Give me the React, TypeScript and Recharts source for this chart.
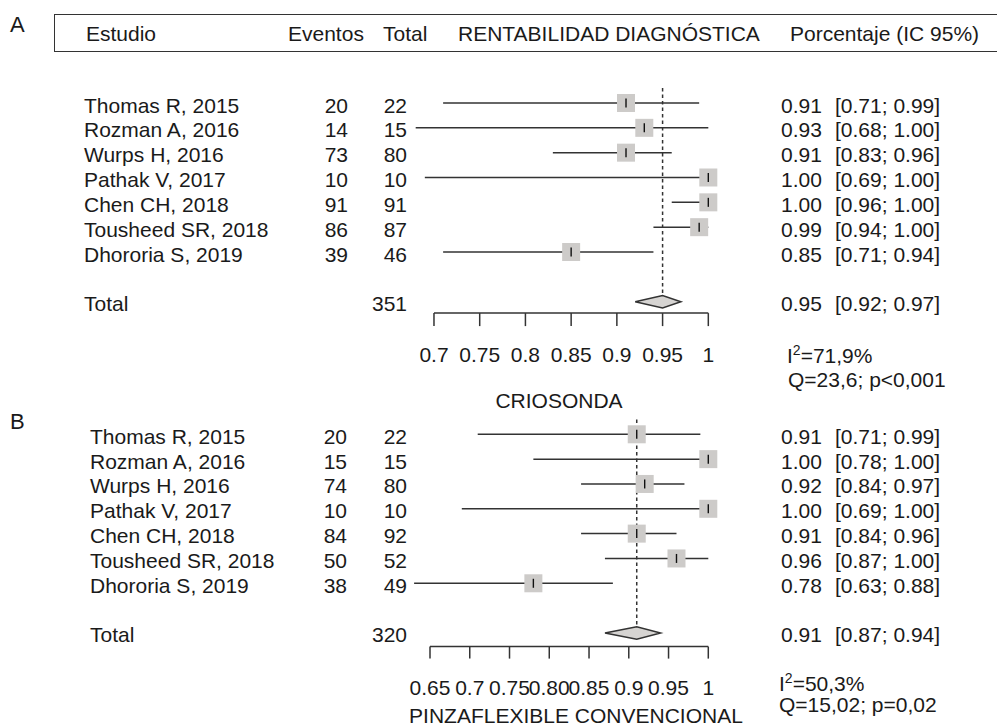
import React from 'react';
import { ScatterChart, Scatter, XAxis, YAxis, ErrorBar, ReferenceLine } from 'recharts';

const FONT = '"Liberation Sans", Arial, Helvetica, sans-serif';
const FS = 21;
const INK = '#1a1a1a';
const LINE = '#333333';

const studies = [
  'Thomas R, 2015',
  'Rozman A, 2016',
  'Wurps H, 2016',
  'Pathak V, 2017',
  'Chen CH, 2018',
  'Tousheed SR, 2018',
  'Dhororia S, 2019',
];

// panel A - criosonda
const eventsA = [20, 14, 73, 10, 91, 86, 39];
const totalsA = [22, 15, 80, 10, 91, 87, 46];
const estA = [0.91, 0.93, 0.91, 1.0, 1.0, 0.99, 0.85];
const loA = [0.71, 0.68, 0.83, 0.69, 0.96, 0.94, 0.71];
const hiA = [0.99, 1.0, 0.96, 1.0, 1.0, 1.0, 0.94];
const summaryA = { n: 351, est: 0.95, lo: 0.92, hi: 0.97 };
const ticksA = [0.7, 0.75, 0.8, 0.85, 0.9, 0.95, 1];
const tickLabelsA = ['0.7', '0.75', '0.8', '0.85', '0.9', '0.95', '1'];

// panel B - pinza flexible convencional
const eventsB = [20, 15, 74, 10, 84, 50, 38];
const totalsB = [22, 15, 80, 10, 92, 52, 49];
const estB = [0.91, 1.0, 0.92, 1.0, 0.91, 0.96, 0.78];
const loB = [0.71, 0.78, 0.84, 0.69, 0.84, 0.87, 0.63];
const hiB = [0.99, 1.0, 0.97, 1.0, 0.96, 1.0, 0.88];
const summaryB = { n: 320, est: 0.91, lo: 0.87, hi: 0.94 };
const ticksB = [0.65, 0.7, 0.75, 0.8, 0.85, 0.9, 0.95, 1];
const tickLabelsB = ['0.65', '0.7', '0.75', '0.80', '0.85', '0.9', '0.95', '1'];

const TOTAL_ROW = 8;
const ROW_TICKS = [0, 1, 2, 3, 4, 5, 6, TOTAL_ROW];
const DIAMOND_H = 0.25;

type Panel = {
  events: number[];
  totals: number[];
  est: number[];
  lo: number[];
  hi: number[];
  summary: { n: number; est: number; lo: number; hi: number };
  ticks: number[];
  tickLabels: string[];
  domain: [number, number];
  yMax: number;
  top: number;
  height: number;
  mTop: number;
  mBottom: number;
  left: number;
  right: number;
  tickSize: number;
  nameX: number;
  eventsX: number;
};

const panelA: Panel = {
  events: eventsA, totals: totalsA, est: estA, lo: loA, hi: hiA, summary: summaryA,
  ticks: ticksA, tickLabels: tickLabelsA, domain: [0.66, 1.02], yMax: 8.46,
  top: 0, height: 410, mTop: 88.1, mBottom: 36.9, left: 397.4, right: 270.4, tickSize: 13,
  nameX: 84, eventsX: 348,
};

const panelB: Panel = {
  events: eventsB, totals: totalsB, est: estB, lo: loB, hi: hiB, summary: summaryB,
  ticks: ticksB, tickLabels: tickLabelsB, domain: [0.62, 1.02], yMax: 8.55,
  top: 330, height: 396, mTop: 89.4, mBottom: 19.4, left: 406.15, right: 272.8, tickSize: 12,
  nameX: 90, eventsX: 347,
};

const fmt = (v: number) => v.toFixed(2);

const txt = { fontFamily: FONT, fontSize: FS, fill: INK } as const;

function Square(props: any) {
  const { cx, cy } = props;
  return <rect x={cx - 9} y={cy - 9} width={18} height={18} fill="#cdcbc9" />;
}

function Mark(props: any) {
  const { cx, cy } = props;
  return <line x1={cx} x2={cx} y1={cy - 4.5} y2={cy + 4.5} stroke="#111" strokeWidth={1.4} />;
}

function ForestPanel({ p }: { p: Panel }) {
  const rows = p.est.map((e, i) => ({ x: e, y: i, err: [e - p.lo[i], p.hi[i] - e] }));
  const s = p.summary;
  const diamond = [
    { x: s.lo, y: TOTAL_ROW },
    { x: s.est, y: TOTAL_ROW - DIAMOND_H },
    { x: s.hi, y: TOTAL_ROW },
    { x: s.est, y: TOTAL_ROW + DIAMOND_H },
    { x: s.lo, y: TOTAL_ROW },
  ];

  const renderRow = (props: any) => {
    const { y, payload } = props;
    const i = payload.value;
    const isTotal = i === TOTAL_ROW;
    const ty = y + 2;
    return (
      <g>
        <text x={p.nameX} y={ty} dominantBaseline="central" {...txt}>
          {isTotal ? 'Total' : studies[i]}
        </text>
        {!isTotal && (
          <text x={p.eventsX} y={ty} dominantBaseline="central" textAnchor="end" {...txt}>
            {p.events[i]}
          </text>
        )}
        <text x={407} y={ty} dominantBaseline="central" textAnchor="end" {...txt}>
          {isTotal ? s.n : p.totals[i]}
        </text>
        <text x={781} y={ty} dominantBaseline="central" {...txt}>
          {fmt(isTotal ? s.est : p.est[i])}
        </text>
        <text x={835} y={ty} dominantBaseline="central" {...txt}>
          {`[${fmt(isTotal ? s.lo : p.lo[i])}; ${fmt(isTotal ? s.hi : p.hi[i])}]`}
        </text>
      </g>
    );
  };

  return (
    <div style={{ position: 'absolute', left: 0, top: p.top }}>
      <ScatterChart
        width={997}
        height={p.height}
        margin={{ top: p.mTop, right: p.right, bottom: p.mBottom, left: 0 }}
      >
        <XAxis
          type="number"
          dataKey="x"
          domain={p.domain}
          ticks={p.ticks}
          interval={0}
          tickFormatter={(v: number) => p.tickLabels[p.ticks.indexOf(v)] ?? String(v)}
          axisLine={false}
          tickSize={p.tickSize}
          tickMargin={21}
          tickLine={{ stroke: LINE, strokeWidth: 1.5 }}
          tick={{ fontSize: FS, fill: INK, fontFamily: FONT }}
          height={60}
        />
        <YAxis
          type="number"
          dataKey="y"
          domain={[-0.6, p.yMax]}
          reversed
          ticks={ROW_TICKS}
          interval={0}
          width={p.left}
          axisLine={false}
          tickLine={false}
          tick={renderRow}
        />
        <ReferenceLine
          segment={[{ x: p.ticks[0], y: p.yMax }, { x: 1, y: p.yMax }]}
          stroke={LINE}
          strokeWidth={1.5}
          ifOverflow="visible"
        />
        <ReferenceLine
          segment={[{ x: s.est, y: -0.6 }, { x: s.est, y: TOTAL_ROW }]}
          stroke={LINE}
          strokeWidth={1.5}
          strokeDasharray="3.5 3"
          ifOverflow="visible"
        />
        <Scatter data={rows} shape={Square} isAnimationActive={false} />
        <Scatter data={rows} shape={Mark} isAnimationActive={false}>
          <ErrorBar dataKey="err" direction="x" width={0} stroke={LINE} strokeWidth={1.5} />
        </Scatter>
        <Scatter
          data={diamond}
          line={{ stroke: LINE, strokeWidth: 1.5, fill: '#d6d4d2' }}
          lineType="joint"
          shape={() => <g />}
          isAnimationActive={false}
        />
      </ScatterChart>
    </div>
  );
}

const abs = (left: number, top: number, extra: React.CSSProperties = {}): React.CSSProperties => ({
  position: 'absolute',
  left,
  top,
  fontFamily: FONT,
  fontSize: FS,
  lineHeight: '21px',
  color: INK,
  whiteSpace: 'nowrap',
  ...extra,
});

function Stat({ x, y, children }: { x: number; y: number; children: React.ReactNode }) {
  return <div style={abs(x, y - 10.5)}>{children}</div>;
}

function Title({ cx, y, text }: { cx: number; y: number; text: string }) {
  return <div style={abs(cx - 250, y - 10.5, { width: 500, textAlign: 'center' })}>{text}</div>;
}

export default function App() {
  return (
    <div
      style={{
        position: 'absolute',
        left: 0,
        top: 0,
        width: 997,
        height: 726,
        overflow: 'hidden',
        background: '#fff',
      }}
    >
      <div style={abs(10, 14, { fontSize: 22, lineHeight: '22px' })}>A</div>
      <div
        style={{
          position: 'absolute',
          left: 54,
          top: 14,
          width: 960,
          height: 36,
          border: '1.5px solid #333',
          borderRight: 'none',
        }}
      />
      <div style={abs(86, 23)}>Estudio</div>
      <div style={abs(288, 23)}>Eventos</div>
      <div style={abs(383, 23)}>Total</div>
      <div style={abs(458, 23)}>RENTABILIDAD DIAGNÓSTICA</div>
      <div style={abs(790, 23)}>Porcentaje (IC 95%)</div>

      <ForestPanel p={panelA} />
      <Stat x={787} y={350}>
        I<sup style={{ fontSize: 14 }}>2</sup>=71,9%
      </Stat>
      <Stat x={788} y={379}>Q=23,6; p&lt;0,001</Stat>
      <Title cx={559} y={400} text="CRIOSONDA" />

      <div style={abs(10, 411, { fontSize: 22, lineHeight: '22px' })}>B</div>
      <ForestPanel p={panelB} />
      <Stat x={779} y={678}>
        I<sup style={{ fontSize: 14 }}>2</sup>=50,3%
      </Stat>
      <Stat x={779} y={704}>Q=15,02; p=0,02</Stat>
      <Title cx={576} y={715} text="PINZAFLEXIBLE CONVENCIONAL" />
    </div>
  );
}
